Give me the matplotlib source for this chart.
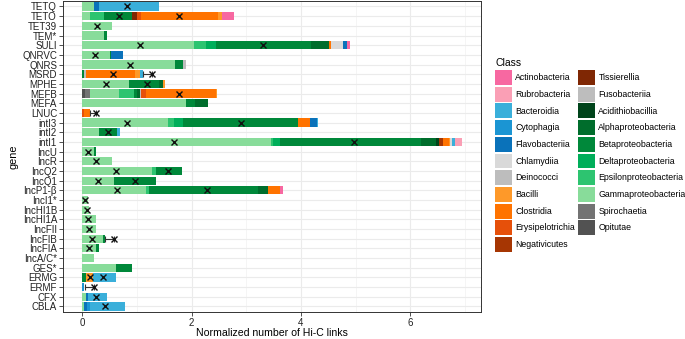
#!/usr/bin/env python
#### stacked Hi-C link counts per gene, coloured by host class
import numpy as np
import pandas as pd
import matplotlib
matplotlib.use('Agg')
import matplotlib.pyplot as plt
from matplotlib.patches import Patch

plt.rcParams['font.family'] = ['Liberation Sans', 'DejaVu Sans']

#### data
genes = ['TETQ', 'TETO', 'TET39', 'TEM*', 'SULI', 'QNRVC', 'QNRS', 'MSRD', 'MPHE',
         'MEFB', 'MEFA', 'LNUC', 'intI3', 'intI2', 'intI1', 'IncU', 'IncR', 'IncQ2',
         'IncQ1', 'IncP1-\u03b2', 'IncI1*', 'IncHI1B', 'IncHI1A', 'IncFII', 'IncFIB',
         'IncFIA', 'IncA/C*', 'GES*', 'ERMG', 'ERMF', 'CFX', 'CBLA']

classes = ['Actinobacteria', 'Rubrobacteria', 'Bacteroidia', 'Cytophagia',
           'Flavobacteriia', 'Chlamydiia', 'Deinococci', 'Bacilli', 'Clostridia',
           'Erysipelotrichia', 'Negativicutes', 'Tissierellia', 'Fusobacteriia',
           'Acidithiobacillia', 'Alphaproteobacteria', 'Betaproteobacteria',
           'Deltaproteobacteria', 'Epsilonproteobacteria', 'Gammaproteobacteria',
           'Spirochaetia', 'Opitutae']

colors = ['#F768A1', '#FA9FB5', '#3AAFDA', '#1B95D3', '#0A72BA', '#D9D9D9', '#BDBDBD',
          '#FE9929', '#FF7300', '#E6500A', '#A63603', '#7F2704', '#BDBDBD', '#00441B',
          '#006D2C', '#00883A', '#00AE5A', '#2DC470', '#88DC9A', '#737373', '#525252']

actino = {'TETO': 0.21, 'SULI': 0.05, 'IncP1-\u03b2': 0.07}
rubro = {'intI1': 0.13}
bacteroidia = {'TETQ': 1.09, 'MSRD': 0.05, 'intI3': 0.02, 'intI2': 0.06, 'intI1': 0.057,
               'ERMG': 0.43, 'CFX': 0.35, 'CBLA': 0.64}
cytophagia = {'ERMF': 0.04, 'CBLA': 0.06}
flavo = {'TETQ': 0.10, 'SULI': 0.09, 'QNRVC': 0.21, 'intI3': 0.125, 'CFX': 0.05,
         'CBLA': 0.055}
chlamydiia = {'SULI': 0.21, 'intI1': 0.033}
deinococci = {}
bacilli = {'TETO': 0.07, 'MSRD': 0.10, 'MPHE': 0.025, 'MEFB': 0.02, 'intI1': 0.022,
           'ERMG': 0.12}
clostridia = {'TETO': 1.41, 'SULI': 0.04, 'MSRD': 0.89, 'MEFB': 1.29, 'LNUC': 0.10,
              'intI3': 0.22, 'intI1': 0.098, 'IncP1-\u03b2': 0.22}
erysipelo = {'TETO': 0.07, 'MEFB': 0.08, 'LNUC': 0.04}
negativicutes = {'intI1': 0.073}
tissierellia = {'TETO': 0.10}
fuso = {'QNRS': 0.04, 'MSRD': 0.03, 'MEFB': 0.02}
acidithio = {'intI1': 0.061}
alpha = {'SULI': 0.32, 'MPHE': 0.085, 'MEFB': 0.05, 'MEFA': 0.23, 'intI1': 0.276,
         'IncP1-\u03b2': 0.18}
beta = {'TETO': 0.51, 'TEM*': 0.05, 'SULI': 1.75, 'QNRVC': 0.02, 'QNRS': 0.15,
        'MSRD': 0.04, 'MPHE': 0.54, 'MEFB': 0.07, 'MEFA': 0.165, 'intI3': 2.105,
        'intI2': 0.32, 'intI1': 2.576, 'IncU': 0.03, 'IncQ2': 0.48, 'IncQ1': 0.77,
        'IncP1-\u03b2': 1.99, 'IncFIB': 0.045, 'IncFIA': 0.06, 'GES*': 0.29, 'ERMG': 0.07}
delta = {'SULI': 0.18, 'intI3': 0.165, 'intI1': 0.124}
epsilon = {'TETO': 0.26, 'SULI': 0.22, 'MEFB': 0.27, 'intI3': 0.11, 'intI1': 0.04,
           'IncQ2': 0.08, 'IncP1-\u03b2': 0.055}
gamma = {'TETQ': 0.21, 'TETO': 0.14, 'TET39': 0.54, 'TEM*': 0.40, 'SULI': 2.04,
         'QNRVC': 0.51, 'QNRS': 1.70, 'MPHE': 0.86, 'MEFB': 0.53, 'MEFA': 1.90,
         'intI3': 1.56, 'intI2': 0.31, 'intI1': 3.45, 'IncU': 0.22, 'IncR': 0.54,
         'IncQ2': 1.27, 'IncQ1': 0.585, 'IncP1-\u03b2': 1.165, 'IncI1*': 0.10,
         'IncHI1B': 0.12, 'IncHI1A': 0.245, 'IncFII': 0.245, 'IncFIB': 0.37,
         'IncFIA': 0.245, 'IncA/C*': 0.21, 'GES*': 0.615, 'CFX': 0.06, 'CBLA': 0.025}
spiro = {'MEFB': 0.09}
opitutae = {'MEFB': 0.05}

# x markers
mark_gene = ['TETQ', 'TETO', 'TETO', 'TET39', 'SULI', 'SULI', 'QNRVC', 'QNRS', 'MSRD',
             'MSRD', 'MPHE', 'MPHE', 'MEFB', 'LNUC', 'intI3', 'intI3', 'intI2', 'intI1',
             'intI1', 'IncU', 'IncR', 'IncQ2', 'IncQ2', 'IncQ1', 'IncQ1', 'IncP1-\u03b2',
             'IncP1-\u03b2', 'IncI1*', 'IncHI1B', 'IncHI1A', 'IncFII', 'IncFIB', 'IncFIB',
             'IncFIA', 'ERMG', 'ERMG', 'ERMF', 'CFX', 'CBLA']
mark_x = [0.81, 0.68, 1.76, 0.27, 1.05, 3.31, 0.24, 0.88, 0.57, 1.27, 0.43, 1.18, 1.77,
          0.26, 0.81, 2.90, 0.47, 1.68, 4.97, 0.11, 0.26, 0.62, 1.57, 0.29, 0.96, 0.63,
          2.29, 0.05, 0.085, 0.11, 0.12, 0.18, 0.585, 0.13, 0.14, 0.38, 0.21, 0.26, 0.41]

# one-sided error bars
err_gene = ['MSRD', 'LNUC', 'IncFIB', 'ERMF']
err_lo = [1.11, 0.14, 0.415, 0.05]
err_x = [1.27, 0.26, 0.585, 0.21]

#### build table
series = [actino, rubro, bacteroidia, cytophagia, flavo, chlamydiia, deinococci, bacilli,
          clostridia, erysipelo, negativicutes, tissierellia, fuso, acidithio, alpha, beta,
          delta, epsilon, gamma, spiro, opitutae]
df = pd.DataFrame({c: pd.Series(s, dtype=float) for c, s in zip(classes, series)},
                  index=genes).fillna(0.0)

#### plot
fig = plt.figure(figsize=(6.85, 3.39), dpi=100)
ax = fig.add_axes([0.0924, 0.079, 0.6094, 0.919])

ypos = np.arange(len(genes))
pos = dict(zip(genes, ypos))
left = np.zeros(len(genes))
# ggplot stacks the first level on the far right, so go in reverse
for cls, col in zip(classes[::-1], colors[::-1]):
    vals = df[cls].values
    ax.barh(ypos, vals, left=left, height=0.85, color=col, linewidth=0, zorder=2)
    left += vals

ax.errorbar(err_x, [pos[g] for g in err_gene],
            xerr=[np.array(err_x) - np.array(err_lo), np.zeros(len(err_x))],
            fmt='none', ecolor='#333333', elinewidth=0.8, capsize=2.2, capthick=0.8,
            zorder=3)
ax.plot(mark_x, [pos[g] for g in mark_gene], 'x', color='#111111', ms=4, mew=1.0,
        zorder=4)

ax.set_xlim(-0.347, 7.287)
ax.set_ylim(len(genes) - 0.4, -0.6)
ax.set_yticks(ypos)
ax.set_yticklabels(genes)
ax.set_xticks([0, 2, 4, 6])
ax.set_xticks([1, 3, 5, 7], minor=True)
ax.grid(True, which='major', color='#EBEBEB', lw=0.8, zorder=0)
ax.grid(True, which='minor', axis='x', color='#F2F2F2', lw=0.5, zorder=0)
ax.set_axisbelow(True)
ax.tick_params(axis='both', which='major', labelsize=7, colors='#333333', length=3,
               width=0.6, pad=1.5, labelcolor='#222222')
ax.tick_params(axis='x', which='minor', length=0)
for sp in ax.spines.values():
    sp.set_color('#333333')
    sp.set_linewidth(0.7)
ax.set_xlabel('Normalized number of Hi-C links', fontsize=7.6, labelpad=0)
ax.set_ylabel('gene', fontsize=7.8, labelpad=3)

handles = [Patch(facecolor=c, edgecolor='none') for c in colors]
leg = fig.legend(handles, classes, loc='upper left', bbox_to_anchor=(0.723, 0.828),
                 ncol=2, frameon=False, fontsize=6.3, title='Class', title_fontsize=7.5,
                 handlelength=1.9, handleheight=2.25, labelspacing=0.2,
                 handletextpad=0.4, columnspacing=0.35, borderpad=0, borderaxespad=0)
leg._legend_box.align = 'left'

fig.savefig('out.png', dpi=100)
